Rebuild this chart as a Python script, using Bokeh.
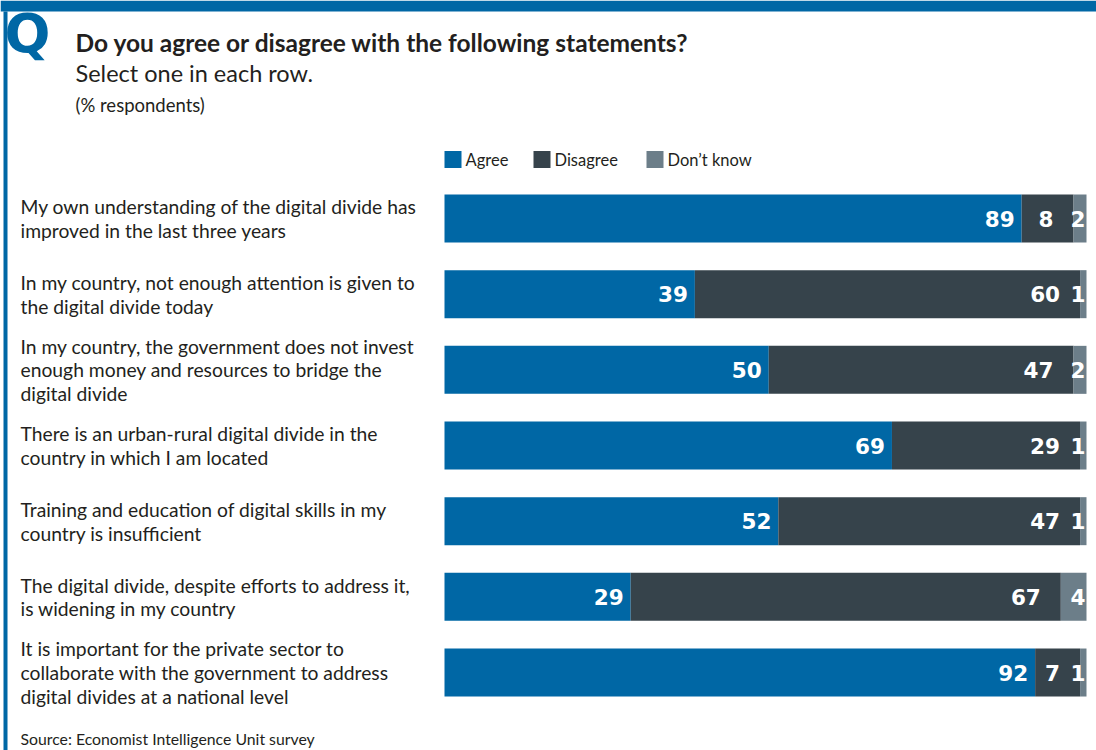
from bokeh.plotting import figure
from bokeh.models import Range1d, ColumnDataSource
from bokeh.core.properties import value
from bokeh.embed import file_html
from bokeh.resources import INLINE

# ---------------- data ----------------
statements = [
    "My own understanding of the digital divide has\nimproved in the last three years",
    "In my country, not enough attention is given to\nthe digital divide today",
    "In my country, the government does not invest\nenough money and resources to bridge the\ndigital divide",
    "There is an urban-rural digital divide in the\ncountry in which I am located",
    "Training and education of digital skills in my\ncountry is insufficient",
    "The digital divide, despite efforts to address it,\nis widening in my country",
    "It is important for the private sector to\ncollaborate with the government to address\ndigital divides at a national level",
]
agree = [89, 39, 50, 69, 52, 29, 92]
disagree = [8, 60, 47, 29, 47, 67, 7]
dont_know = [2, 1, 2, 1, 1, 4, 1]
series_names = ["Agree", "Disagree", "Don\u2019t know"]
colors = ["#0067A5", "#36434B", "#6C7E89"]

title = "Do you agree or disagree with the following statements?"
subtitle = "Select one in each row."
unit_note = "(% respondents)"
source_note = "Source: Economist Intelligence Unit survey"

# ---------------- layout ----------------
W, H = 1096, 750
X0, PXU = 444.0, 6.42          # pixel of 0 %, pixels per percent
def fx(px):
    return (px - X0) / PXU

ROW0, ROWSTEP, BARH = 218.0, 75.67, 48.0
rows = [ROW0 + ROWSTEP * i for i in range(len(statements))]

p = figure(width=W, height=H, output_backend="svg", toolbar_location=None,
           x_range=Range1d(fx(0), fx(W)), y_range=Range1d(H, 0),
           x_axis_type=None, y_axis_type=None, min_border=0,
           background_fill_color="white", border_fill_color="white")
p.outline_line_color = None
p.grid.visible = False

# normalized stacked segments
a_l, a_r, d_l, d_r, k_l, k_r = [], [], [], [], [], []
for a, d, k in zip(agree, disagree, dont_know):
    t = a + d + k
    a_l.append(0); a_r.append(a / t * 100)
    d_l.append(a / t * 100); d_r.append((a + d) / t * 100)
    k_l.append((a + d) / t * 100); k_r.append(100.0)

src = ColumnDataSource(dict(y=rows, a_l=a_l, a_r=a_r, d_l=d_l, d_r=d_r,
                            k_l=k_l, k_r=k_r,
                            a_t=[str(v) for v in agree],
                            d_t=[str(v) for v in disagree],
                            k_t=[str(v) for v in dont_know]))

p.hbar(y="y", left="a_l", right="a_r", height=BARH, source=src,
       fill_color=colors[0], line_color=None)
p.hbar(y="y", left="d_l", right="d_r", height=BARH, source=src,
       fill_color=colors[1], line_color=None)
p.hbar(y="y", left="k_l", right="k_r", height=BARH, source=src,
       fill_color=colors[2], line_color=None)

num_font = value("DejaVu Sans")
for xcol, tcol, off in (("a_r", "a_t", -7), ("d_r", "d_t", -20), ("k_r", "k_t", -1)):
    p.text(x=xcol, y="y", text=tcol, source=src, x_offset=off,
           text_align="right", text_baseline="middle", text_color="white",
           text_font=num_font, text_font_style="bold", text_font_size="21.5px")

# category labels
txt_font = value("Lato")
p.text(x=[fx(20)] * len(rows), y=rows, text=statements, text_align="left",
       text_baseline="middle", text_color="#231F20", text_font=txt_font,
       text_font_size="19.3px", text_line_height=1.03)

# legend
leg_x = [444, 533, 646]
for lx, name, c in zip(leg_x, series_names, colors):
    p.rect(x=[fx(lx + 8.5)], y=[159], width=17 / PXU, height=17,
           fill_color=c, line_color=None)
    p.text(x=[fx(lx + 21)], y=[159], text=[name], text_align="left",
           text_baseline="middle", text_color="#231F20", text_font=txt_font,
           text_font_size="16.5px")

# titles
p.text(x=[fx(75)], y=[42], text=[title], text_baseline="middle",
       text_color="#231F20", text_font=txt_font, text_font_style="bold",
       text_font_size="24.5px")
p.text(x=[fx(75)], y=[72], text=[subtitle], text_baseline="middle",
       text_color="#231F20", text_font=txt_font, text_font_size="23.5px")
p.text(x=[fx(75)], y=[104], text=[unit_note], text_baseline="middle",
       text_color="#231F20", text_font=txt_font, text_font_size="18.5px")
p.text(x=[fx(20)], y=[738], text=[source_note], text_baseline="middle",
       text_color="#231F20", text_font=txt_font, text_font_size="15.8px")

# decoration: big Q below the top band, top band, left rule
p.text(x=[fx(4)], y=[1], text=["Q"], text_baseline="top",
       text_color=colors[0], text_font=value("DejaVu Sans"),
       text_font_style="bold", text_font_size="54px")
p.quad(left=[fx(0)], right=[fx(W)], top=[0], bottom=[11],
       fill_color=colors[0], line_color=None)
p.quad(left=[fx(3)], right=[fx(7)], top=[11], bottom=[H],
       fill_color=colors[0], line_color=None)

open("out.html", "w").write(file_html(p, INLINE))
